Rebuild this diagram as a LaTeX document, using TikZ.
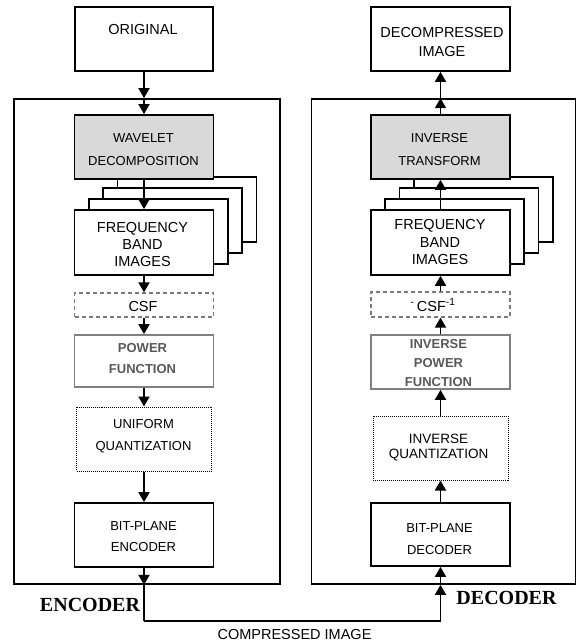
\documentclass[tikz,border=0pt]{standalone}
\usepackage{fontspec}
\setmainfont{Liberation Sans}
\newfontfamily\labelfont{Liberation Serif}
\usetikzlibrary{arrows.meta}
\definecolor{wavgray}{HTML}{D9D9D9}
\definecolor{pwrtext}{HTML}{595959}
\definecolor{pwrline}{HTML}{808080}
\definecolor{csfline}{HTML}{7A7A7A}
\begin{document}
\begin{tikzpicture}[x=1pt,y=-1pt,
  box/.style={draw, line width=1.7pt, fill=white, inner sep=0pt, minimum width=139pt, minimum height=64pt},
  graybox/.style={box, fill=wavgray},
  stackbox/.style={box, minimum height=65pt},
  csfbox/.style={draw=csfline, line width=1.3pt, dash pattern=on 4pt off 3pt, fill=white, inner sep=0pt, minimum width=139pt, minimum height=24pt},
  pwrbox/.style={draw=pwrline, line width=1.7pt, fill=white, inner sep=0pt, minimum width=139pt, minimum height=52pt},
  quantbox/.style={draw, line width=1pt, dash pattern=on 1pt off 1pt, fill=white, inner sep=0pt, minimum width=135pt, minimum height=64pt},
  frame/.style={draw, line width=1.7pt, inner sep=0pt},
  txt/.style={align=center, inner sep=0pt, font=\fontsize{13}{21}\selectfont},
  bigtxt/.style={align=center, inner sep=0pt, font=\fontsize{14.5}{17}\selectfont},
  pwrtxt/.style={align=center, inner sep=0pt, text=pwrtext, font=\bfseries\fontsize{13}{21}\selectfont},
  sidelabel/.style={inner sep=0pt, font=\labelfont\bfseries\fontsize{20}{22}\selectfont},
  arr/.style={line width=1.8pt, -{Triangle[length=10pt,width=11pt]}},
  link/.style={line width=1.8pt}]
\useasboundingbox (0,0) rectangle (577,643);

% frames
\node[frame, minimum width=266pt, minimum height=485pt] (encf) at (147,341.5) {};
\node[frame, minimum width=264pt, minimum height=485pt] (decf) at (443.5,341.5) {};

% ---------------- encoder column ----------------
\node[box, minimum width=138pt] (orig) at (144,39) {};
\node[bigtxt] (origt) at (143,30) {ORIGINAL};

\node[stackbox] (eb3) at (186.9,209.5) {};
\node[graybox] (wav) at (144,147) {};
\node[txt, font=\fontsize{13}{23}\selectfont] (wavt) at (143.5,149.5) {WAVELET\\DECOMPOSITION};
\node[stackbox] (eb2) at (172.6,220.5) {};
\node[stackbox] (eb1) at (158.3,231.5) {};
\node[stackbox] (eb0) at (144,242.5) {};
\node[bigtxt] (eb0t) at (142.5,245) {FREQUENCY\\BAND\\IMAGES};

\node[csfbox] (csf) at (144,305) {};
\node[bigtxt] (csft) at (143,307) {CSF};

\node[pwrbox] (pwr) at (144,361) {};
\node[pwrtxt] (pwrt) at (142.5,358.5) {POWER\\FUNCTION};

\node[quantbox] (uq) at (144,439) {};
\node[txt, font=\fontsize{13}{22}\selectfont] (uqt) at (143.5,436.5) {UNIFORM\\QUANTIZATION};

\node[box] (bpe) at (144,535) {};
\node[txt] (bpet) at (143.5,536.5) {BIT-PLANE\\ENCODER};

% ---------------- decoder column ----------------
\node[box] (dimg) at (440.5,39) {};
\node[bigtxt, font=\fontsize{14.5}{19}\selectfont] (dimgt) at (442,42.5) {DECOMPRESSED\\IMAGE};

\node[stackbox] (db3) at (483.4,209.5) {};
\node[graybox] (inv) at (440.5,147) {};
\node[txt, font=\fontsize{13}{23}\selectfont] (invt) at (439.5,149.5) {INVERSE\\TRANSFORM};
\node[stackbox] (db2) at (469.1,220.5) {};
\node[stackbox] (db1) at (454.8,231.5) {};
\node[stackbox] (db0) at (440.5,242.5) {};
\node[bigtxt, font=\fontsize{14.5}{17.5}\selectfont] (db0t) at (440,242.5) {FREQUENCY\\BAND\\IMAGES};

\node[csfbox, minimum height=25pt] (icsf) at (440.5,304.5) {};
\node[bigtxt] (icsft) at (433,305) {\textsuperscript{-}\,CSF\textsuperscript{-1}};

\node[pwrbox, minimum height=54pt] (ipwr) at (440.5,362) {};
\node[pwrtxt, font=\bfseries\fontsize{13}{19}\selectfont] (ipwrt) at (438.5,363) {INVERSE\\POWER\\FUNCTION};

\node[quantbox] (iq) at (440.5,448) {};
\node[txt, font=\fontsize{13.5}{15}\selectfont] (iqt) at (438.5,447.5) {INVERSE\\QUANTIZATION};

\node[box, minimum height=63pt] (bpd) at (440.5,534.5) {};
\node[txt, font=\fontsize{13}{22}\selectfont] (bpdt) at (439.5,539) {BIT-PLANE\\DECODER};

% ---------------- connectors: encoder ----------------
\coordinate (encin) at (orig.south |- encf.north);
\draw[arr] (orig.south) -- (encin);
\draw[arr] (encin) -- (wav.north);
\draw[arr] (wav.south) -- (eb0.north);
\draw[arr] (eb0.south) -- (csf.north);
\draw[arr] (csf.south) -- (pwr.north);
\draw[arr] (pwr.south) -- (uq.north);
\draw[arr] (uq.south) -- (bpe.north);
\coordinate (encout) at (bpe.south |- encf.south);
\draw[arr] (bpe.south) -- (encout);

% ---------------- connectors: channel ----------------
\coordinate (decin) at (bpd.south |- decf.south);
\coordinate (chl) at (144,621);
\draw[link] (encout) -- (chl);
\draw[arr] (chl) -| (decin);
\draw[arr] (decin) -- (bpd.south);

% ---------------- connectors: decoder ----------------
\draw[arr] (bpd.north) -- (iq.south);
\draw[arr] (iq.north) -- (ipwr.south);
\draw[arr] (ipwr.north) -- (icsf.south);
\draw[arr] (icsf.north) -- (db0.south);
\draw[arr] (db0.north) -- (inv.south);
\coordinate (decout) at (inv.north |- decf.north);
\draw[arr] (inv.north) -- (decout);
\draw[arr] (decout) -- (dimg.south);

% ---------------- labels ----------------
\node[sidelabel] (enclbl) at (90,605) {ENCODER};
\node[sidelabel] (declbl) at (506.5,598) {DECODER};
\node[bigtxt] (chant) at (294.5,635) {COMPRESSED IMAGE};
\end{tikzpicture}
\end{document}
